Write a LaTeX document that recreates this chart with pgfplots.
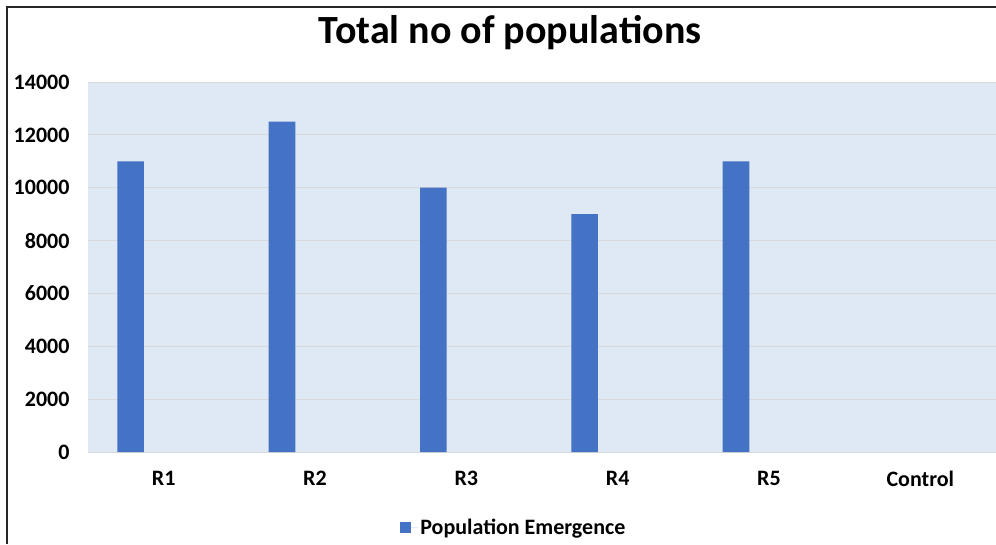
\documentclass[border=0pt]{standalone}
\usepackage{pgfplots}
\pgfplotsset{compat=1.18}
\usepackage{fontspec}
\setmainfont{Carlito}
\definecolor{barblue}{HTML}{4472C4}
\definecolor{plotbg}{HTML}{DEE9F5}
\definecolor{gridgray}{HTML}{D9D9D9}
\begin{document}
\begin{tikzpicture}[x=1pt,y=1pt]
\path[use as bounding box] (0,0) rectangle (996,-544);
\fill[white] (0,0) rectangle (996,-544);
\begin{axis}[
  at={(88pt,-452pt)}, anchor=south west,
  scale only axis, width=908pt, height=370pt,
  xmin=-0.5, xmax=5.5, ymin=0, ymax=14000,
  axis background/.style={fill=plotbg},
  axis line style={draw=none},
  ymajorgrids, grid style={draw=gridgray, line width=1pt},
  major tick length=0pt,
  ytick={0,2000,...,14000},
  xtick={0,1,2,3,4,5},
  xticklabels={R1,R2,R3,R4,R5,Control},
  scaled y ticks=false,
  /pgf/number format/assume math mode=true,
  /pgf/number format/set thousands separator={},
  yticklabel style={font=\bfseries\fontsize{22}{22}\selectfont, xshift=-15pt},
  xticklabel style={font=\bfseries\fontsize{22}{22}\selectfont, yshift=-16pt},
  legend style={at={(0.469,-0.203)}, anchor=center, draw=none, fill=none,
    font=\bfseries\fontsize{22}{22}\selectfont},
]
\addplot[ybar, fill=barblue, draw=none, bar width=26.6pt, bar shift=-33pt,
  legend image code/.code={\fill[barblue] (0pt,-5.5pt) rectangle (11pt,5.5pt);\path (0pt,0pt) -- (18pt,0pt);}]
  coordinates {(0,11000) (1,12500) (2,10000) (3,9000) (4,11000)};
\addlegendentry{Population Emergence}
\end{axis}
\node[font=\bfseries\fontsize{40}{40}\selectfont] at (510,-33) {Total no of populations};
\draw[line width=2.5pt, color=black!85] (7,-544) -- (7,-7) -- (996,-7);
\end{tikzpicture}
\end{document}
